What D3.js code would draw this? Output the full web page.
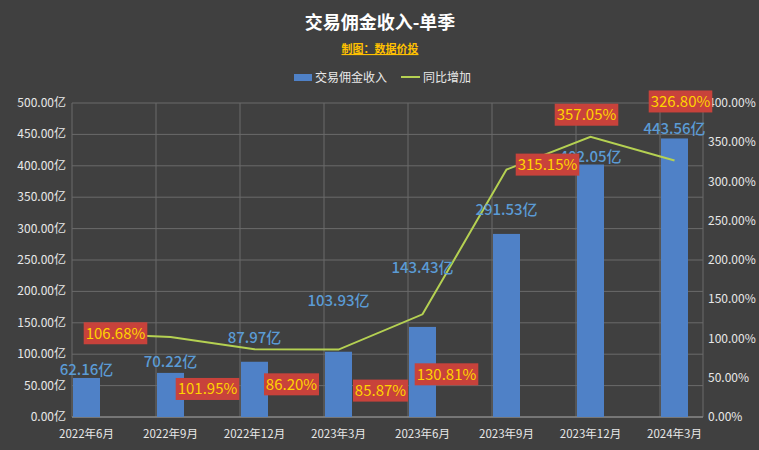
<!DOCTYPE html><html><head><meta charset="utf-8"><script src="https://cdn.jsdelivr.net/npm/d3@7"></script>
<style>body{margin:0;background:#404040}text{font-family:"Noto Sans CJK SC","Noto Sans",sans-serif}</style></head><body>
<svg id="c" width="759" height="450"></svg>
<script>
const categories=["2022年6月","2022年9月","2022年12月","2023年3月","2023年6月","2023年9月","2023年12月","2024年3月"];
const revenue=[62.16,70.22,87.97,103.93,143.43,291.53,402.05,443.56];
const yoy=[106.68,101.95,86.20,85.87,130.81,315.15,357.05,326.80];
const leftTicks=[0,50,100,150,200,250,300,350,400,450,500];
const rightTicks=[0,50,100,150,200,250,300,350,400];
// label offsets (style)
const barLblOff=[[0,-3],[0,-6],[0,-19],[0,-46],[0,-54],[0,-19],[0,-3],[0,-4]];
const pctLblOff=[[29,0],[37,52],[37,35],[42,41],[24,60],[41,-5],[-4,-22],[6,-59]];
const svg=d3.select("#c");
const L=72,R=703,T=103,B=417,step=84;
svg.append("rect").attr("width",759).attr("height",450).attr("fill","#404040");
const x=i=>L+i*step;
const yL=d3.scaleLinear().domain([0,500]).range([B,T]);
const yR=d3.scaleLinear().domain([0,400]).range([B,T]);
leftTicks.forEach(t=>svg.append("line").attr("x1",L).attr("x2",R).attr("y1",yL(t)).attr("y2",yL(t)).attr("stroke","#6a6a6a"));
categories.forEach((c,i)=>svg.append("line").attr("x1",x(i)).attr("x2",x(i)).attr("y1",T).attr("y2",B).attr("stroke","#6a6a6a"));
svg.append("line").attr("x1",R).attr("x2",R).attr("y1",T).attr("y2",B).attr("stroke","#6a6a6a");
svg.append("line").attr("x1",L).attr("x2",R).attr("y1",B).attr("y2",B).attr("stroke","#999");
leftTicks.forEach(t=>svg.append("text").attr("x",66).attr("y",yL(t)+4).attr("text-anchor","end").attr("fill","#e8e8e8").attr("font-size",12).text(t.toFixed(2)+"亿"));
rightTicks.forEach(t=>svg.append("text").attr("x",708).attr("y",yR(t)+4).attr("fill","#e8e8e8").attr("font-size",12).text(t.toFixed(2)+"%"));
const bw=27,cx=i=>x(i)+1+bw/2;
categories.forEach((c,i)=>svg.append("text").attr("x",cx(i)).attr("y",438).attr("text-anchor","middle").attr("fill","#e8e8e8").attr("font-size",11.5).text(c));
svg.selectAll(".b").data(revenue).enter().append("rect").attr("x",(d,i)=>x(i)+1).attr("width",bw).attr("y",d=>yL(d)).attr("height",d=>B-yL(d)).attr("fill","#4f81c7");
svg.append("path").datum(yoy).attr("d",d3.line().x((d,i)=>cx(i)).y(d=>yR(d))).attr("fill","none").attr("stroke","#b5d152").attr("stroke-width",2);
revenue.forEach((d,i)=>svg.append("text").attr("x",cx(i)+barLblOff[i][0]).attr("y",yL(d)+barLblOff[i][1]).attr("text-anchor","middle").attr("fill","#5b9bd5").attr("font-size",15).attr("font-weight",500).text(d.toFixed(2)+"亿"));
yoy.forEach((d,i)=>{const px=cx(i)+pctLblOff[i][0],py=yR(d)+pctLblOff[i][1];
 const w=d.toFixed(2).length*8.6+12;
 svg.append("rect").attr("x",px-w/2).attr("y",py-11).attr("width",w).attr("height",22).attr("fill","#c8423b");
 svg.append("text").attr("x",px).attr("y",py+5.5).attr("text-anchor","middle").attr("fill","#ffd400").attr("font-size",15).text(d.toFixed(2)+"%");});
svg.append("text").attr("x",380).attr("y",29).attr("text-anchor","middle").attr("fill","#fff").attr("font-size",18).attr("font-weight","bold").text("交易佣金收入-单季");
svg.append("text").attr("x",380).attr("y",53).attr("text-anchor","middle").attr("fill","#ffc000").attr("font-size",11).attr("font-weight","bold").attr("text-decoration","underline").text("制图：数据价投");
svg.append("rect").attr("x",294).attr("y",74).attr("width",18).attr("height",7).attr("fill","#4f81c7");
svg.append("text").attr("x",315).attr("y",82).attr("fill","#e8e8e8").attr("font-size",12).text("交易佣金收入");
svg.append("line").attr("x1",401).attr("x2",420).attr("y1",77).attr("y2",77).attr("stroke","#b5d152").attr("stroke-width",2);
svg.append("text").attr("x",423).attr("y",82).attr("fill","#e8e8e8").attr("font-size",12).text("同比增加");
</script></body></html>
